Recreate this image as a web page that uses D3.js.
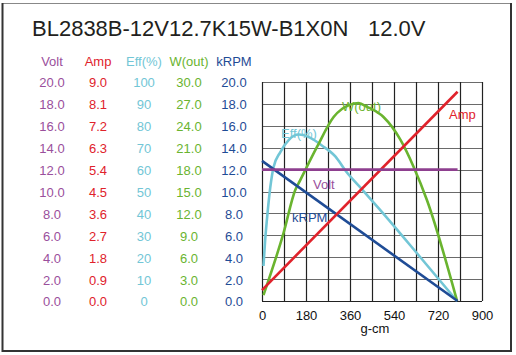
<!DOCTYPE html>
<html><head><meta charset="utf-8">
<script src="https://cdn.jsdelivr.net/npm/d3@7"></script>
<style>
html,body{margin:0;padding:0;background:#fff;}
svg{display:block;font-family:"Liberation Sans",Arial,sans-serif;}
</style></head>
<body><svg id="c" width="516" height="355"></svg>
<script>
// ---- data ----
const title = "BL2838B-12V12.7K15W-B1X0N";
const titleVolt = "12.0V";
const xTicks = [0, 180, 360, 540, 720, 900];
const xGrid = [0, 90, 180, 270, 360, 450, 540, 630, 720, 810, 900];
const voltTicks = [0, 2, 4, 6, 8, 10, 12, 14, 16, 18, 20];
const ampTicks = [0, 0.9, 1.8, 2.7, 3.6, 4.5, 5.4, 6.3, 7.2, 8.1, 9.0];
const effTicks = [0, 10, 20, 30, 40, 50, 60, 70, 80, 90, 100];
const wTicks = [0, 3, 6, 9, 12, 15, 18, 21, 24, 27, 30];
const rpmTicks = [0, 2, 4, 6, 8, 10, 12, 14, 16, 18, 20];

const voltTorque = [0, 800];
const voltValues = [12.0, 12.0];
const ampTorque = [0, 800];
const ampValues = [0.45, 8.6];
const rpmTorque = [0, 800];
const rpmValues = [12.8, 0];
const effTorque = [6, 13, 20, 34, 47, 75, 109, 150, 198, 245, 300, 345, 409, 484, 640, 798];
const effValues = [16, 28, 37, 52, 61, 68, 73.5, 76, 74.5, 71, 66, 59, 51, 41.5, 21, 0];
const wTorque = [6, 88, 136, 157, 225, 293, 361, 395, 430, 497, 566, 620, 675, 798];
const wValues = [0.8, 9.3, 15.2, 16.6, 21.1, 25.2, 26.9, 27.1, 26.6, 25.2, 22.1, 18.4, 13.8, 0];

// ---- colours ----
const cVolt = "#9a4f9c", cVoltLine = "#8e3f8f";
const cAmp = "#e0222b";
const cEff = "#72c6d6";
const cW = "#6ab42f";
const cRpm = "#1f4c96";

const svg = d3.select("#c");

// frame
svg.append("line").attr("x1",2).attr("x2",511).attr("y1",3.5).attr("y2",3.5).attr("stroke","#888").attr("stroke-width",1);
svg.append("line").attr("x1",2.5).attr("x2",2.5).attr("y1",3).attr("y2",352).attr("stroke","#333").attr("stroke-width",2);
svg.append("line").attr("x1",511).attr("x2",511).attr("y1",3).attr("y2",352).attr("stroke","#333").attr("stroke-width",2);
svg.append("line").attr("x1",2).attr("x2",512).attr("y1",351).attr("y2",351).attr("stroke","#333").attr("stroke-width",2);

// title
svg.append("text").attr("x",32).attr("y",36).attr("font-size",22).attr("fill","#231f20").text(title);
svg.append("text").attr("x",368).attr("y",36).attr("font-size",22).attr("fill","#231f20").text(titleVolt);

// scales
const x = d3.scaleLinear().domain([0, 900]).range([262, 482]);
const yV = d3.scaleLinear().domain([0, 20]).range([301, 82]);
const yA = d3.scaleLinear().domain([0, 9]).range([301, 82]);
const yE = d3.scaleLinear().domain([0, 100]).range([301, 82]);
const yW = d3.scaleLinear().domain([0, 30]).range([301, 82]);
const yR = d3.scaleLinear().domain([0, 20]).range([301, 82]);

// grid
const grid = svg.append("g");
grid.selectAll("line.h").data(voltTicks).join("line")
  .attr("x1", x(0)).attr("x2", x(900)).attr("y1", d => Math.round(yV(d)) + 0.5).attr("y2", d => Math.round(yV(d)) + 0.5)
  .attr("stroke", d => (d === 0 ? "#222" : "#6a6a6a")).attr("stroke-width", 1.2);
grid.selectAll("line.v").data(xGrid).join("line")
  .attr("x1", d => Math.round(x(d)) + 0.5).attr("x2", d => Math.round(x(d)) + 0.5).attr("y1", yV(20)).attr("y2", yV(0))
  .attr("stroke", "#222").attr("stroke-width", 1.2);

// left value columns
function column(cx, scale, ticks, fmt, color, header, bold) {
  const ax = d3.axisLeft(scale).tickValues(ticks).tickFormat(fmt).tickSize(0);
  const g = svg.append("g").attr("transform", `translate(${cx},0)`).call(ax);
  g.select(".domain").remove();
  g.selectAll("text").attr("x", 0).attr("dy", "0.38em").attr("text-anchor", "middle")
    .attr("fill", color).attr("font-size", 13).attr("font-family", '"Liberation Sans",Arial,sans-serif')
    .attr("font-weight", bold ? "bold" : null);
  svg.append("text").attr("x", cx).attr("y", 66).attr("text-anchor", "middle").attr("font-size", 13)
    .attr("fill", color).attr("font-weight", bold ? "bold" : null).text(header);
}
column(52, yV, voltTicks, d3.format(".1f"), cVolt, "Volt", false);
column(98, yA, ampTicks, d3.format(".1f"), cAmp, "Amp", false);
column(144, yE, effTicks, d3.format("d"), cEff, "Eff(%)", false);
column(189, yW, wTicks, d3.format(".1f"), cW, "W(out)", false);
column(234, yR, rpmTicks, d3.format(".1f"), cRpm, "kRPM", false);

// x axis
const xa = svg.append("g").attr("transform", `translate(0,${yV(0)})`)
  .call(d3.axisBottom(x).tickValues(xTicks).tickSize(0).tickPadding(10));
xa.select(".domain").remove();
xa.selectAll("text").attr("font-size", 13).attr("fill", "#111").attr("font-family", '"Liberation Sans",Arial,sans-serif');
svg.append("text").attr("x", 375).attr("y", 333).attr("text-anchor", "middle").attr("font-size", 13).attr("fill", "#111").text("g-cm");

// curves
function series(tArr, vArr, ys, color, curve) {
  const pts = tArr.map((t, i) => [t, vArr[i]]);
  svg.append("path").datum(pts)
    .attr("d", d3.line().x(d => x(d[0])).y(d => ys(d[1])).curve(curve || d3.curveLinear))
    .attr("fill", "none").attr("stroke", color).attr("stroke-width", 2.6).attr("stroke-linejoin", "round");
}
series(effTorque, effValues, yE, cEff, d3.curveMonotoneX);
series(wTorque, wValues, yW, cW, d3.curveMonotoneX);
series(rpmTorque, rpmValues, yR, cRpm);
series(ampTorque, ampValues, yA, cAmp);
series(voltTorque, voltValues, yV, cVoltLine);

// series labels
const lab = (tx, ty, txt, col) => svg.append("text").attr("x", tx).attr("y", ty).attr("font-size", 13).attr("fill", col).text(txt);
lab(342, 111, "W(out)", cW);
lab(449, 119, "Amp", cAmp);
lab(281, 138, "Eff(%)", cEff);
lab(313, 189, "Volt", cVolt);
lab(292, 222, "kRPM", cRpm);
</script></body></html>
